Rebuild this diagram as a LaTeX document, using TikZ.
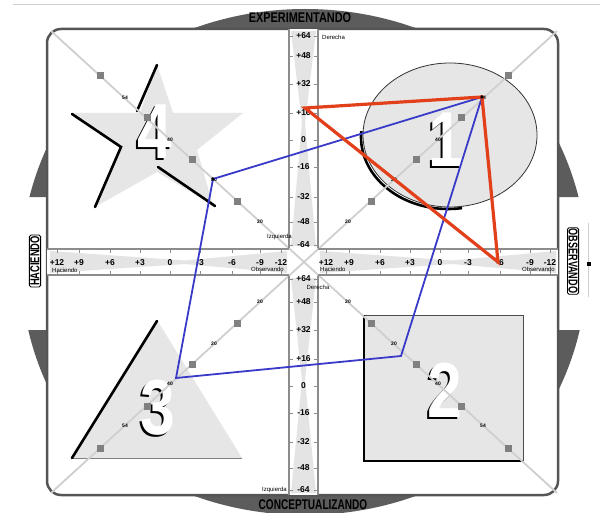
\documentclass[tikz,border=0pt]{standalone}
\usepackage{fontspec}
\setmainfont{Liberation Sans}
\definecolor{dk}{HTML}{5C5C5C}
\definecolor{fr}{HTML}{555555}
\definecolor{lgf}{HTML}{E6E6E6}
\definecolor{hg}{HTML}{E4E4E4}
\definecolor{dgl}{HTML}{CFCFCF}
\definecolor{sqc}{HTML}{808080}
\definecolor{stc}{HTML}{8C8C8C}
\definecolor{rd}{HTML}{E2401A}
\definecolor{bl}{HTML}{3A3AC8}
\newcommand{\cnd}[2]{\scalebox{#1}[1]{#2}}
\begin{document}
\begin{tikzpicture}[x=1pt,y=-1pt,
  sqm/.style={fill=sqc, minimum size=7pt, inner sep=0pt},
  dlab/.style={font=\bfseries\fontsize{5}{5}\selectfont, inner sep=0pt},
  tlab/.style={font=\bfseries\fontsize{8.5}{8.5}\selectfont, inner sep=0pt},
  small/.style={font=\fontsize{6}{6}\selectfont, inner sep=0pt},
  tk/.style={draw=stc, line width=0.8pt},
  sborder/.style={draw=stc, line width=1.2pt},
  num/.style={font=\bfseries\fontsize{78}{78}\selectfont, inner sep=0pt},
  shadowline/.style={line width=2.6pt, black, line cap=round},
  biglab/.style={font=\bfseries\fontsize{14}{14}\selectfont, inner sep=0pt},
  sidelab/.style={font=\bfseries\fontsize{13}{13}\selectfont, draw=black, line width=0.8pt, rounded corners=1.5pt, fill=white, inner sep=1pt}]
\useasboundingbox (0,0) rectangle (607,513);
% top thin line
\draw[dgl, line width=1pt] (13,5) -- (600,5);
% background: top and bottom bands
\begin{scope}
  \clip (0,0) rectangle (607,30) (0,494) rectangle (607,513);
  \fill[dk] (305,262) ellipse [x radius=290pt, y radius=253pt];
\end{scope}
% background: side wedges
\begin{scope}
  \clip (0,140) rectangle (48,197) (0,330) rectangle (48,400)
        (557,140) rectangle (607,197) (557,330) rectangle (607,400);
  \fill[dk] (304,266) circle [radius=283pt];
\end{scope}
% frame
\filldraw[fill=white, draw=fr, line width=2.5pt, rounded corners=14pt] (47,29) rectangle (558,495);
% right small mark
\draw[dgl, line width=0.8pt] (588,223) -- (588,297);
\fill[black] (586.5,261.5) rectangle (590.5,265.5);

% quadrant shapes
% star
\fill[lgf] (157,65) -- (173,113) -- (243,113) -- (197,150) -- (213,205) -- (157,172) -- (95,207) -- (120,147) -- (72,113) -- (140,113) -- cycle;
% ellipse
\filldraw[fill=lgf, draw=black!80, line width=0.8pt] (450,135) ellipse [x radius=87pt, y radius=72pt];
\begin{scope}
  \clip (340,132) rectangle (462,220);
  \draw[black, line width=2.6pt] (448,137) ellipse [x radius=87pt, y radius=72pt];
\end{scope}
% triangle
\fill[lgf] (157,320) -- (242,458) -- (72,458) -- cycle;
\draw[sqc, line width=1.5pt] (72,458.5) -- (242,458.5);
\draw[shadowline] (72,458) -- (157,321);
% square
\filldraw[fill=lgf, draw=black!70, line width=0.8pt] (363,315) rectangle (523,461);
\draw[shadowline, line cap=butt] (364,315) -- (364,461) -- (523,461);
% star shadow lines
\draw[shadowline] (157,65) -- (137,111);
\draw[shadowline] (72,114) -- (121,147) -- (95,207);
\draw[shadowline] (158,167) -- (215,206);

% big numbers
\node[num, text=black] (n4s) at (153,134) {\cnd{0.8}{4}};
\node[num, text=white] (n4) at (155,132) {\cnd{0.8}{4}};
\node[num, text=black] (n1s) at (444,142) {\cnd{0.8}{1}};
\node[num, text=white] (n1) at (446,140) {\cnd{0.8}{1}};
\node[num, text=black] (n2s) at (443,392) {\cnd{0.8}{2}};
\node[num, text=white] (n2) at (445,390) {\cnd{0.8}{2}};
\node[num, text=black] (n3s) at (156,410) {\cnd{0.8}{3}};
\node[num, text=white] (n3) at (158,408) {\cnd{0.8}{3}};

% diagonals
\coordinate (c) at (304,262);
\coordinate (tl) at (51,31);
\coordinate (tr) at (557,31);
\coordinate (bll) at (51,493);
\coordinate (brr) at (557,493);
\draw[dgl, line width=1.8pt] (tl) -- (brr);
\draw[dgl, line width=1.8pt] (tr) -- (bll);
\foreach \sx/\sy/\q in {-1/-1/a,1/-1/b,-1/1/c,1/1/d}{
  \foreach \dx/\dy in {204/186,157/144,112/102,67/61}
    \node[sqm] (m\q\dx) at ({304+\sx*\dx},{262+\sy*\dy}) {};
  \foreach \dx/\dy/\t in {179/164/54,134/122/40,90/82/20,44/40/20}
    \node[dlab] (l\q\dx) at ({304+\sx*\dx},{262+\sy*\dy}) {\t};
}

% strips
\fill[white] (289,29) rectangle (318,248);
\fill[white] (289,276) rectangle (318,495);
\fill[white] (47,249) rectangle (289,275);
\fill[white] (318,249) rectangle (558,275);
\fill[hg] (291,31) -- (316,31) -- (305,123) -- (316,246) -- (291,246) -- (302,123) -- cycle;
\fill[hg] (291,278) -- (316,278) -- (305,380) -- (316,493) -- (291,493) -- (302,380) -- cycle;
\fill[hg] (50,251) -- (50,273) -- (185,264) -- (287,273) -- (287,251) -- (185,260.5) -- cycle;
\fill[hg] (320,251) -- (320,273) -- (452,264) -- (556,273) -- (556,251) -- (452,260.5) -- cycle;
\draw[sborder] (289,29) -- (289,248) (318,29) -- (318,248);
\draw[sborder] (289,276) -- (289,495) (318,276) -- (318,495);
\draw[sborder] (47,249) -- (289,249) (47,275) -- (289,275);
\draw[sborder] (318,249) -- (558,249) (318,275) -- (558,275);

% vertical labels
\foreach \yy/\t [count=\i] in {36/+64,56/+48,84/+32,113/+16,140/0,167/-16,197/-32,222/-48,245/-64}{
  \draw[tk] (289,\yy) -- (293,\yy) (314,\yy) -- (318,\yy);
  \node[tlab] (vt\i) at (303.5,\yy) {\t};
}
\foreach \yy/\t [count=\i] in {279/+64,302/+48,330/+32,359/+16,386/0,413/-16,442/-32,468/-48,490/-64}{
  \draw[tk] (289,\yy) -- (293,\yy) (314,\yy) -- (318,\yy);
  \node[tlab] (vb\i) at (303.5,\yy) {\t};
}
% horizontal labels
\foreach \xx/\t [count=\i] in {57/+12,79/+9,110/+6,140/+3,170/0,200/-3,232/-6,260/-9,281/-12}{
  \draw[tk] (\xx,249) -- (\xx,253) (\xx,271) -- (\xx,275);
  \node[tlab] (hl\i) at (\xx,262.5) {\t};
}
\foreach \xx/\t [count=\i] in {326/+12,349/+9,380/+6,410/+3,440/0,468/-3,500/-6,530/-9,550/-12}{
  \draw[tk] (\xx,249) -- (\xx,253) (\xx,271) -- (\xx,275);
  \node[tlab] (hr\i) at (\xx,262.5) {\t};
}
% small axis words
\node[small, anchor=west] (der1) at (322,37) {Derecha};
\node[small, anchor=east] (izq1) at (292,237) {Izquierda};
\node[small] (der2) at (318,287) {Derecha};
\node[small, anchor=east] (izq2) at (287,490) {Izquierda};
\node[small, anchor=west] (hac1) at (52,270) {Haciendo};
\node[small, anchor=east] (obs1) at (284,269.5) {Observando};
\node[small, anchor=west] (hac2) at (320,269.5) {Haciendo};
\node[small, anchor=east] (obs2) at (555,269) {Observando};

% polygons
\coordinate (r1) at (305,108);
\coordinate (v1) at (482,97);
\coordinate (r3) at (498,262);
\coordinate (b1) at (213,179);
\coordinate (b3) at (401,356);
\coordinate (b4) at (176,378);
\draw[bl, line width=1.8pt, line join=miter] (b1) -- (v1) -- (b3) -- (b4) -- cycle;
\draw[rd, line width=3.2pt, line join=miter] (r1) -- (v1) -- (r3) -- cycle;
\fill[black] (b1) circle (1.8pt);
\fill[black] (v1) circle (1.8pt);

% big labels
\node[biglab] (exp) at (300,18) {\cnd{0.78}{EXPERIMENTANDO}};
\node[biglab] (con) at (313,505) {\cnd{0.72}{CONCEPTUALIZANDO}};
\node[sidelab, rotate=90] (hac) at (35,261) {\cnd{0.72}{HACIENDO}};
\node[sidelab, rotate=-90] (obs) at (573,261) {\cnd{0.7}{OBSERVANDO}};
\end{tikzpicture}
\end{document}
